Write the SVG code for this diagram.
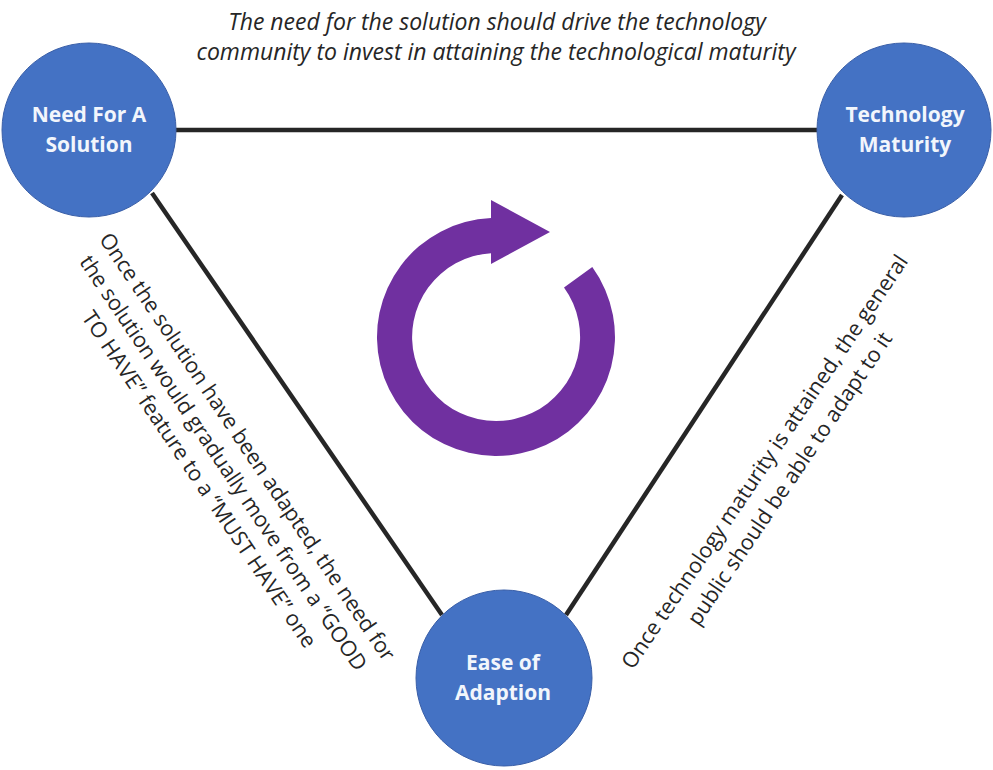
<svg xmlns="http://www.w3.org/2000/svg" width="993" height="770" viewBox="0 0 993 770">
<style>
.node{fill:#4472C4;stroke:#3A5FA8;stroke-width:1}
.nt{font-family:"Open Sans","Liberation Sans",sans-serif;font-weight:bold;font-size:21px;fill:#F2F6FC;text-anchor:middle}
.ln{stroke:#262626;stroke-width:4.5;fill:none}
.lab{font-family:"Open Sans","Liberation Sans",sans-serif;font-size:21.5px;fill:#262626;text-anchor:middle}
.it{font-style:italic;font-size:23px}
</style>
<rect width="993" height="770" fill="#ffffff"/>
<g id="connectors">
<line class="ln" x1="176" y1="130" x2="817" y2="130"/>
<line class="ln" x1="152" y1="193" x2="442" y2="615"/>
<line class="ln" x1="842" y1="195" x2="566" y2="615"/>
</g>
<g id="cycle-arrow">
<path fill="#7030A0" d="M592.3,267.1 A119,119 0 1 1 491,218.1 L491,200 L550,232 L491,264 L491,253.2 A84,84 0 1 0 564,287.6 Z"/>
</g>
<g id="node-need">
<circle class="node" cx="89" cy="130" r="87"/>
<text class="nt" x="89" y="122">Need For A</text>
<text class="nt" x="89" y="152">Solution</text>
</g>
<g id="node-tech">
<circle class="node" cx="904" cy="130" r="87"/>
<text class="nt" x="905" y="122">Technology</text>
<text class="nt" x="905" y="152">Maturity</text>
</g>
<g id="node-ease">
<circle class="node" cx="504" cy="678" r="88"/>
<text class="nt" x="503" y="670">Ease of</text>
<text class="nt" x="503" y="700">Adaption</text>
</g>
<g id="label-top">
<text class="lab it" x="497" y="30">The need for the solution should drive the technology</text>
<text class="lab it" x="496" y="60">community to invest in attaining the technological maturity</text>
</g>
<g id="label-left" transform="translate(247,447) rotate(56)">
<text class="lab" x="0" y="7">Once the solution have been adapted, the need for</text>
<text class="lab" x="0" y="36">the solution would gradually move from a “GOOD</text>
<text class="lab" x="0" y="65">TO HAVE” feature to a “MUST HAVE” one</text>
</g>
<g id="label-right" transform="translate(765,462) rotate(-56)">
<text class="lab" x="0" y="7">Once technology maturity is attained, the general</text>
<text class="lab" x="0" y="37">public should be able to adapt to it</text>
</g>
</svg>
